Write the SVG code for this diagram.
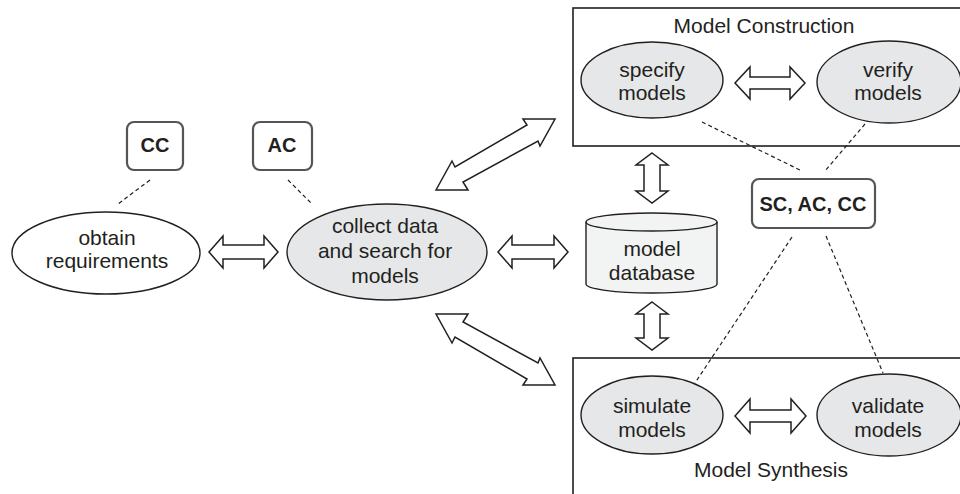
<svg xmlns="http://www.w3.org/2000/svg" width="960" height="494" viewBox="0 0 960 494">
<style>
text{font-family:"Liberation Sans",Arial,sans-serif;fill:#231f20;text-anchor:middle}
.t{font-size:21px}
.b{font-size:20px;font-weight:bold}
.ell{fill:#e6e7e8;stroke:#231f20;stroke-width:1.4}
.ellw{fill:#fff;stroke:#231f20;stroke-width:1.4}
.frame{fill:none;stroke:#231f20;stroke-width:1.6}
.tag{fill:#fff;stroke:#555;stroke-width:2.2}
.arr{fill:#fff;stroke:#231f20;stroke-width:1.5;stroke-linejoin:miter}
.dash{fill:none;stroke:#231f20;stroke-width:1.2;stroke-dasharray:4 3}
</style>
<rect width="960" height="494" fill="#fff"/>
<g id="model-construction">
<rect class="frame" x="573" y="8" width="400" height="138"/>
<text class="t" x="764" y="33">Model Construction</text>
</g>
<g id="model-synthesis">
<rect class="frame" x="573" y="358" width="400" height="200"/>
<text class="t" x="771" y="477">Model Synthesis</text>
</g>
<g id="specify">
<ellipse class="ell" cx="652" cy="80" rx="71" ry="38"/>
<text class="t" x="652" y="77">specify</text>
<text class="t" x="652" y="100">models</text>
</g>
<g id="verify">
<ellipse class="ell" cx="889" cy="82" rx="72" ry="41"/>
<text class="t" x="888" y="77">verify</text>
<text class="t" x="888" y="100">models</text>
</g>
<g id="simulate">
<ellipse class="ell" cx="652" cy="415" rx="71" ry="39"/>
<text class="t" x="652" y="413">simulate</text>
<text class="t" x="652" y="437">models</text>
</g>
<g id="validate">
<ellipse class="ell" cx="889" cy="415" rx="72" ry="41"/>
<text class="t" x="888" y="413">validate</text>
<text class="t" x="888" y="437">models</text>
</g>
<g id="obtain">
<ellipse class="ellw" cx="106" cy="253" rx="94" ry="41"/>
<text class="t" x="107" y="245">obtain</text>
<text class="t" x="107" y="268">requirements</text>
</g>
<g id="collect">
<ellipse class="ell" cx="387" cy="252" rx="100" ry="48"/>
<text class="t" x="385" y="233">collect data</text>
<text class="t" x="385" y="258">and search for</text>
<text class="t" x="385" y="283">models</text>
</g>
<g id="database">
<path d="M586,222 V284 A65.5,9 0 0 0 717,284 V222 A65.5,9 0 0 0 586,222 Z" fill="#f2f3f3" stroke="#231f20" stroke-width="1.4"/>
<path d="M586,222 A65.5,9 0 0 0 717,222" fill="none" stroke="#231f20" stroke-width="1.4"/>
<text class="t" x="652" y="256">model</text>
<text class="t" x="652" y="280">database</text>
</g>
<g id="cc">
<rect class="tag" x="127" y="122" width="56" height="48" rx="7"/>
<text class="b" x="155" y="152">CC</text>
</g>
<g id="ac">
<rect class="tag" x="253" y="122" width="59" height="48" rx="7"/>
<text class="b" x="282" y="152">AC</text>
</g>
<g id="sc-ac-cc">
<rect class="tag" x="752" y="179" width="123" height="49" rx="7"/>
<text class="b" x="813" y="211">SC, AC, CC</text>
</g>
<g id="connectors">
<polygon class="arr" points="209,252 223,236 223,245 264,245 264,236 278,252 264,268 264,259 223,259 223,268"/>
<polygon class="arr" points="498,252 512,236 512,245 554,245 554,236 568,252 554,268 554,259 512,259 512,268"/>
<polygon class="arr" points="735,83 750,67 750,77 790,77 790,67 805,83 790,99 790,89 750,89 750,99"/>
<polygon class="arr" points="735,416 750,399 750,410 791,410 791,399 806,416 791,433 791,422 750,422 750,433"/>
<polygon class="arr" points="652,153 668,165 660,165 660,191 668,191 652,203 636,191 644,191 644,165 636,165"/>
<polygon class="arr" points="652,302 668,314 660,314 660,338 668,338 652,350 636,338 644,338 644,314 636,314"/>
<polygon class="arr" points="436,190 452,161 455,167 527,125 523,119 555,119 540,146 538,141 463,182 468,190"/>
<polygon class="arr" points="436,314 468,314 463,322 538,363 540,358 555,385 523,385 527,379 455,337 452,343"/>
<line class="dash" x1="150" y1="180" x2="118" y2="204"/>
<line class="dash" x1="288" y1="180" x2="312" y2="204"/>
<line class="dash" x1="702" y1="122" x2="802" y2="171"/>
<line class="dash" x1="865" y1="124" x2="825" y2="171"/>
<line class="dash" x1="792" y1="237" x2="695" y2="383"/>
<line class="dash" x1="826" y1="236" x2="883" y2="373"/>
</g>
</svg>
